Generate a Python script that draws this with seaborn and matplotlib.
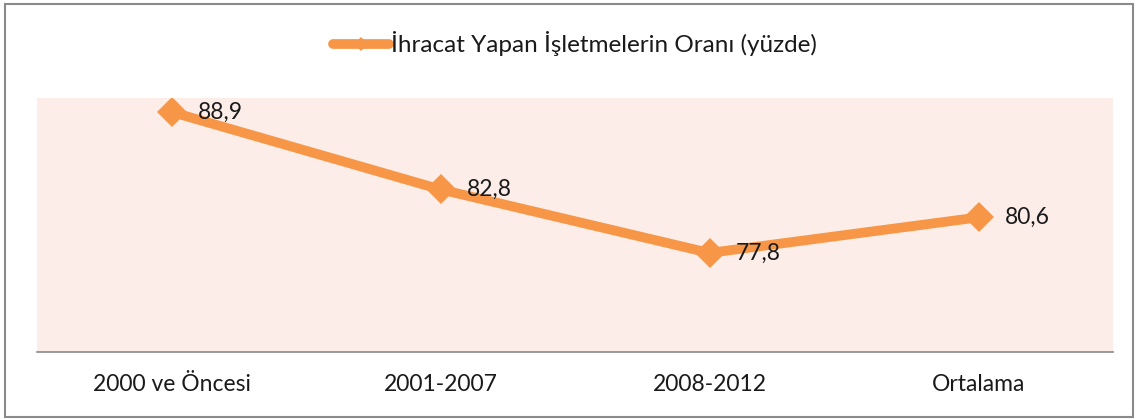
import matplotlib
matplotlib.use('Agg')
import matplotlib.pyplot as plt
from matplotlib.patches import Rectangle
import seaborn as sns
import pandas as pd

# data
categories = ['2000 ve Öncesi', '2001-2007', '2008-2012', 'Ortalama']
oran = [88.9, 82.8, 77.8, 80.6]
value_labels = ['88,9', '82,8', '77,8', '80,6']
series_name = 'İhracat Yapan İşletmelerin Oranı (yüzde)'

sns.set_theme(style='white')
plt.rcParams['font.family'] = ['Lato', 'DejaVu Sans']

orange = '#F79646'

data = pd.DataFrame({'kategori': categories, 'oran': oran})

fig = plt.figure(figsize=(11.4, 4.19), dpi=100)
ax = fig.add_axes([37 / 1140, 1 - 352 / 419, 1076 / 1140, 254 / 419])
ax.set_facecolor('#FCEDE9')

sns.lineplot(data=data, x='kategori', y='oran', ax=ax, color=orange,
             linewidth=7, marker='D', markersize=15, markeredgewidth=0,
             label=series_name, sort=False)

for i, v in enumerate(oran):
    ax.annotate(value_labels[i], (i, v), xytext=(19, 0),
                textcoords='offset points', va='center', ha='left',
                fontsize=16.5, color='#1a1a1a')

ax.set_xlim(-0.5, 3.5)
ax.set_ylim(70, 90)
ax.set_xlabel('')
ax.set_ylabel('')
ax.set_yticks([])
ax.tick_params(axis='x', length=0, labelsize=16.5, pad=16, colors='#1a1a1a')

for s in ['top', 'left', 'right']:
    ax.spines[s].set_visible(False)
ax.spines['bottom'].set_color('#888888')
ax.spines['bottom'].set_linewidth(1.2)

leg = ax.legend(loc='center', bbox_to_anchor=(575 / 1140, 1 - 44 / 419),
                bbox_transform=fig.transFigure, frameon=False, fontsize=17.5,
                handlelength=2.3, handletextpad=0.1, markerscale=0.45)
for t in leg.get_texts():
    t.set_color('#1a1a1a')
for h in leg.legend_handles:
    h.set_solid_capstyle('round')

# outer frame of the chart
fig.patches.append(Rectangle((5 / 1140, 2 / 419), 1128 / 1140, 413 / 419,
                             transform=fig.transFigure, fill=False,
                             edgecolor='#8a8a8a', linewidth=1.5))

plt.savefig('out.png', dpi=100)
